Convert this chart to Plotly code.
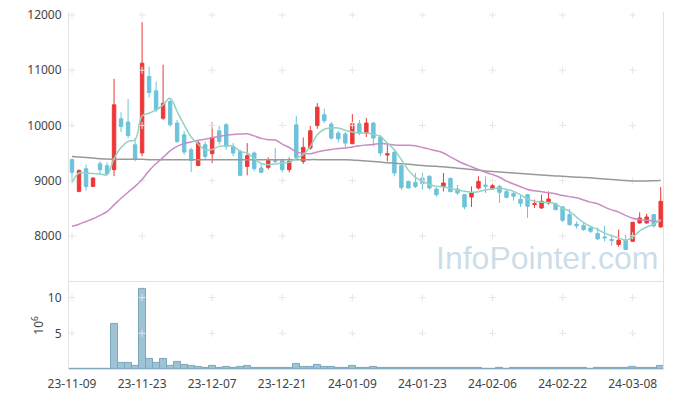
import plotly.graph_objects as go

tick_idx = [0, 10, 20, 30, 40, 50, 60, 70, 80]
tick_labels = ["23-11-09", "23-11-23", "23-12-07", "23-12-21", "24-01-09",
               "24-01-23", "24-02-06", "24-02-22", "24-03-08"]

opens = [9380, 8805, 9215, 8895, 9306, 9270, 9198, 10120, 10060, 9650,
         9500, 10885, 10626, 10130, 10433, 10042, 9830, 9560, 9275, 9650,
         9487, 9903, 10011, 9620, 9530, 9257, 9500, 9228, 9240, 9370,
         9360, 9198, 10011, 9348, 9590, 9999, 10192, 10024, 9861, 9843,
         9668, 10030, 9861, 10042, 9788, 9463, 9510, 9270, 8986, 8968,
         9047, 9077, 8848, 8895, 9040, 8848, 8746, 8704, 8866, 8920,
         8848, 8895, 8800, 8764, 8660, 8746, 8565, 8505, 8595, 8583,
         8523, 8384, 8210, 8185, 8143, 8040, 7980, 7935, 7842, 7920,
         7900, 8233, 8233, 8384, 8161]
highs = [9400, 9200, 9290, 9060, 9350, 9330, 10843, 10240, 10476, 9775,
         11870, 11066, 10794, 11100, 10494, 10100, 9900, 9600, 9720, 9710,
         10060, 9990, 10042, 9680, 9560, 9680, 9530, 9300, 9420, 9590,
         9400, 9420, 10174, 9782, 9990, 10404, 10300, 10060, 9900, 9880,
         10205, 10100, 10133, 10060, 9830, 9680, 9560, 9290, 9000, 9138,
         9140, 9100, 8880, 9138, 9060, 8920, 8760, 8895, 9077, 9077,
         9047, 8926, 8830, 8810, 8730, 8760, 8655, 8746, 8805, 8600,
         8540, 8487, 8260, 8240, 8170, 8150, 8185, 8023, 8113, 8020,
         8250, 8426, 8400, 8390, 8885]
lows = [8980, 8790, 8820, 8890, 9110, 9090, 9080, 9880, 9770, 9350,
        9440, 10505, 10240, 10100, 9980, 9680, 9470, 9155, 9260, 9380,
        9320, 9650, 9560, 9440, 9090, 9095, 9170, 9140, 9200, 9320,
        9150, 9150, 9397, 9300, 9560, 9939, 10042, 9740, 9690, 9600,
        9660, 9820, 9790, 9620, 9440, 9350, 9077, 8830, 8860, 8866,
        8840, 8840, 8710, 8805, 8790, 8740, 8480, 8523, 8836, 8776,
        8836, 8595, 8680, 8640, 8520, 8324, 8505, 8487, 8565, 8460,
        8250, 8185, 8130, 8090, 8050, 7930, 7900, 7824, 7800, 7751,
        7890, 8220, 8221, 8150, 8150]
closes = [9150, 9185, 8895, 9047, 9198, 9125, 10373, 9981, 9818, 9397,
          11127, 10595, 10282, 10400, 10011, 9710, 9517, 9366, 9680, 9438,
          9782, 9710, 9620, 9500, 9095, 9450, 9216, 9150, 9366, 9345,
          9198, 9348, 9420, 9602, 9903, 10331, 10084, 9770, 9758, 9680,
          10030, 9861, 10042, 9770, 9500, 9487, 9138, 8877, 8866, 8895,
          8945, 8866, 8746, 8957, 8800, 8776, 8523, 8776, 8986, 8900,
          8908, 8788, 8697, 8716, 8590, 8535, 8583, 8625, 8667, 8474,
          8282, 8203, 8180, 8113, 8083, 7944, 7965, 7915, 7920, 7751,
          8245, 8324, 8342, 8180, 8625]
ma5 = [8968, 9138, 9135, 9130, 9120, 9107, 9400, 9600, 9710, 9740,
       10174, 10220, 10280, 10373, 10494, 10252, 10011, 9790, 9660, 9560,
       9565, 9620, 9630, 9620, 9530, 9500, 9400, 9310, 9288, 9300,
       9319, 9330, 9400, 9470, 9620, 9830, 9930, 9955, 9955, 9910,
       9880, 9861, 9861, 9840, 9800, 9680, 9560, 9378, 9190, 9060,
       8990, 8926, 8900, 8885, 8860, 8830, 8808, 8790, 8800, 8830,
       8850, 8866, 8840, 8805, 8740, 8670, 8625, 8610, 8605, 8580,
       8500, 8444, 8340, 8240, 8170, 8115, 8050, 8000, 7963, 7920,
       7975, 8090, 8160, 8210, 8293]
ma20 = [8172, 8210, 8260, 8310, 8370, 8440, 8560, 8680, 8790, 8895,
        9020, 9180, 9310, 9420, 9540, 9620, 9670, 9700, 9730, 9750,
        9775, 9800, 9820, 9835, 9843, 9848, 9810, 9765, 9740, 9735,
        9660, 9600, 9520, 9495, 9487, 9520, 9545, 9565, 9580, 9590,
        9610, 9630, 9645, 9655, 9670, 9665, 9645, 9640, 9640, 9630,
        9600, 9570, 9540, 9500, 9430, 9360, 9300, 9250, 9200, 9150,
        9110, 9060, 8990, 8940, 8890, 8840, 8815, 8800, 8780, 8760,
        8730, 8710, 8690, 8650, 8610, 8580, 8520, 8470, 8430, 8370,
        8320, 8295, 8280, 8270, 8263]
ma120 = [9438, 9428, 9418, 9408, 9398, 9390, 9385, 9385, 9385, 9385,
         9385, 9380, 9380, 9380, 9380, 9380, 9380, 9380, 9380, 9380,
         9380, 9380, 9380, 9380, 9380, 9380, 9380, 9380, 9380, 9380,
         9380, 9380, 9380, 9380, 9380, 9380, 9378, 9378, 9378, 9378,
         9375, 9365, 9355, 9345, 9335, 9325, 9315, 9305, 9295, 9285,
         9275, 9265, 9258, 9250, 9238, 9226, 9214, 9200, 9188, 9176,
         9165, 9155, 9146, 9138, 9130, 9120, 9110, 9100, 9092, 9085,
         9078, 9070, 9063, 9057, 9050, 9040, 9030, 9020, 9010, 9000,
         8995, 8993, 8995, 8998, 9002]
volume_m = [0.02, 0.02, 0.02, 0.02, 0.02, 0.02, 6.28, 0.79, 0.79, 0.42,
            11.26, 1.35, 0.79, 1.35, 0.42, 0.98, 0.56, 0.42, 0.23, 0.14,
            0.42, 0.14, 0.28, 0.14, 0.28, 0.42, 0.14, 0.14, 0.14, 0.14,
            0.14, 0.14, 0.65, 0.28, 0.28, 0.56, 0.28, 0.28, 0.14, 0.14,
            0.42, 0.14, 0.14, 0.28, 0.1, 0.1, 0.1, 0.1, 0.1, 0.1,
            0.1, 0.1, 0.1, 0.1, 0.1, 0.1, 0.1, 0.1, 0.1, 0.0,
            0.0, 0.1, 0.0, 0.1, 0.1, 0.1, 0.1, 0.1, 0.1, 0.1,
            0.1, 0.1, 0.1, 0.1, 0.0, 0.1, 0.1, 0.1, 0.1, 0.1,
            0.23, 0.1, 0.1, 0.1, 0.37]

price_ticks = [8000, 9000, 10000, 11000, 12000]
vol_ticks = [5, 10]

idx = list(range(len(closes)))
UP = "#ee3838"
DOWN = "#6cc3da"
GRID = "#e6e6e6"

fig = go.Figure()

# grid crosses at tick intersections
gx, gy = [], []
for t in tick_idx:
    for p in price_ticks:
        gx.append(t); gy.append(p)
fig.add_trace(go.Scatter(x=gx, y=gy, mode="markers",
                         marker=dict(symbol="cross-thin", size=5,
                                     line=dict(color=GRID, width=1)),
                         hoverinfo="skip", showlegend=False))
vx, vy = [], []
for t in tick_idx:
    for p in vol_ticks:
        vx.append(t); vy.append(p)
fig.add_trace(go.Scatter(x=vx, y=vy, mode="markers", yaxis="y2",
                         marker=dict(symbol="cross-thin", size=5,
                                     line=dict(color=GRID, width=1)),
                         hoverinfo="skip", showlegend=False))

fig.add_trace(go.Candlestick(
    x=idx, open=opens, high=highs, low=lows, close=closes,
    increasing=dict(line=dict(color=UP, width=1), fillcolor=UP),
    decreasing=dict(line=dict(color=DOWN, width=1), fillcolor=DOWN),
    whiskerwidth=0, showlegend=False, name="price"))

fig.add_trace(go.Scatter(x=idx, y=ma120, mode="lines",
                         line=dict(color="#999999", width=1.5, shape="spline"),
                         showlegend=False, name="MA120"))
fig.add_trace(go.Scatter(x=idx, y=ma20, mode="lines",
                         line=dict(color="#c98cc6", width=1.5, shape="spline"),
                         showlegend=False, name="MA20"))
fig.add_trace(go.Scatter(x=idx, y=ma5, mode="lines",
                         line=dict(color="#93d2c6", width=1.5, shape="spline"),
                         showlegend=False, name="MA5"))

fig.add_trace(go.Bar(x=idx, y=volume_m, yaxis="y2", xaxis="x",
                     marker=dict(color="rgba(140,184,204,0.85)",
                                 line=dict(color="#7ea7bc", width=1)),
                     showlegend=False, name="volume"))

fig.add_annotation(text="InfoPointer.com", xref="paper", yref="paper",
                   x=0.805, y=0.31, xanchor="center", yanchor="middle",
                   showarrow=False,
                   font=dict(family="Liberation Sans, Arial", size=32,
                             color="rgba(160,192,212,0.55)"))

axis_font = dict(family="Noto Sans", size=12, color="#444444")
fig.update_layout(
    width=673, height=398,
    margin=dict(l=61, r=18, t=4, b=37),
    paper_bgcolor="white", plot_bgcolor="white",
    showlegend=False, bargap=0.0,
    font=axis_font,
    xaxis=dict(range=[-0.43, 84.33], tickvals=tick_idx, ticktext=tick_labels,
               showgrid=False, zeroline=False, rangeslider=dict(visible=False),
               showline=True, linecolor="#e2e2e2", mirror=True,
               ticks="outside", ticklen=4, tickcolor="rgba(0,0,0,0)",
               anchor="y2", tickfont=axis_font, automargin=False,
               ticklabeloverflow="allow"),
    yaxis=dict(domain=[0.247, 1.0], range=[7185, 12054], tickvals=price_ticks,
               tickformat="d", showgrid=False, zeroline=False,
               showline=True, linecolor="#e2e2e2", mirror=True,
               ticks="outside", ticklen=4, tickcolor="rgba(0,0,0,0)",
               tickfont=axis_font, automargin=False,
               ticklabeloverflow="allow"),
    yaxis2=dict(domain=[0.0, 0.244], range=[0, 12.2], tickvals=vol_ticks,
                showgrid=False, zeroline=False,
                showline=True, linecolor="#e2e2e2", mirror=True,
                ticks="outside", ticklen=4, tickcolor="rgba(0,0,0,0)",
                title=dict(text="10<sup>6</sup>", font=axis_font, standoff=1),
                tickfont=axis_font, automargin=False,
                ticklabeloverflow="allow"),
)
fig.update_xaxes(rangeslider_visible=False)

fig.write_html("out.html")
